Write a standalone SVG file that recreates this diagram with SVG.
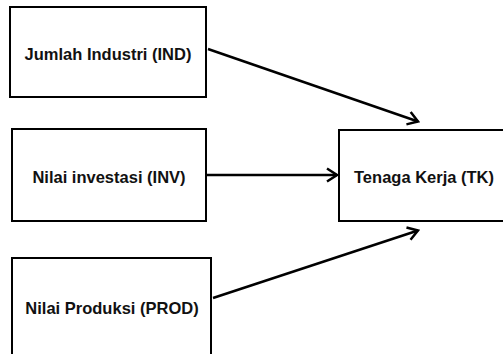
<svg xmlns="http://www.w3.org/2000/svg" width="503" height="354" viewBox="0 0 503 354">
<style>
.box{fill:#fff;stroke:#000;stroke-width:2}
.lbl{font-family:"Liberation Sans",Arial,sans-serif;font-weight:bold;font-size:16.5px;fill:#111;text-anchor:middle}
.conn{stroke:#000;stroke-width:2.5;fill:none;marker-end:url(#arr)}
</style>
<defs>
<marker id="arr" markerUnits="userSpaceOnUse" viewBox="-12 -8 14 16" refX="0" refY="0" markerWidth="14" markerHeight="16" orient="auto">
<path d="M-10,-6.5 L0,0 L-10,6.5" fill="none" stroke="#000" stroke-width="2.5"/>
</marker>
</defs>
<rect width="503" height="354" fill="#fff"/>
<g id="ind"><rect class="box" x="10" y="7" width="196" height="90"/><text class="lbl" x="108" y="59.5">Jumlah Industri (IND)</text></g>
<g id="inv"><rect class="box" x="12" y="129" width="194" height="92"/><text class="lbl" x="109" y="182.5">Nilai investasi (INV)</text></g>
<g id="prod"><rect class="box" x="12" y="258" width="199" height="110"/><text class="lbl" x="112" y="314">Nilai Produksi (PROD)</text></g>
<g id="tk"><rect class="box" x="339" y="130" width="170" height="91"/><text class="lbl" x="424" y="183">Tenaga Kerja (TK)</text></g>
<g id="connectors">
<line class="conn" x1="208" y1="49" x2="418" y2="121.5"/>
<line class="conn" x1="206" y1="175" x2="337" y2="175"/>
<line class="conn" x1="213" y1="298" x2="418" y2="230.5"/>
</g>
</svg>
